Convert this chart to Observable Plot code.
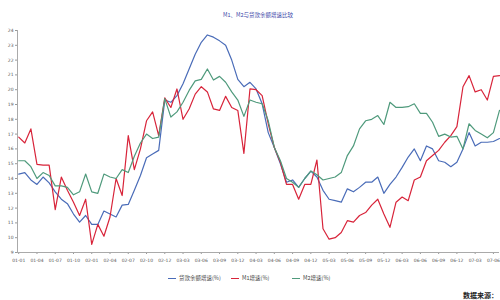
<!DOCTYPE html>
<html><head><meta charset="utf-8">
<script src="https://cdn.jsdelivr.net/npm/d3@7"></script>
<script src="https://cdn.jsdelivr.net/npm/@observablehq/plot@0.6"></script>
<style>
body{margin:0;background:#fff;font-family:"Noto Sans CJK SC","DejaVu Sans",sans-serif;width:500px;height:300px;overflow:hidden;position:relative}
#title{position:absolute;top:11px;left:0;width:500px;text-align:center;font-size:5.5px;color:#3a45a8;padding-left:16px;box-sizing:border-box}
#chart{position:absolute;top:20px;left:0}
#legend{position:absolute;top:274px;left:0;width:500px;font-size:5.5px;color:#444;white-space:nowrap}
.it{position:absolute;display:flex;align-items:center}
.sw{display:inline-block;width:8px;height:0;border-top:1px solid;margin-right:3px}
#src{position:absolute;top:290px;left:463px;font-size:7px;color:#222;font-weight:bold}
</style></head><body>
<div id="title">M1、M2与贷款余额增速比较</div>
<div id="chart"></div>
<div id="legend"></div>
<div id="src">数据来源：</div>
<script>
const tickLabels = ["01-01","01-04","01-07","01-10","02-01","02-04","02-07","02-10","02-12","03-03","03-06","03-09","03-12","04-03","04-06","04-09","04-12","05-03","05-06","05-09","05-12","06-03","06-06","06-09","06-12","07-03","07-06"];
const seriesNames = ["贷款余额增速(%)","M1增速(%)","M2增速(%)"];
const seriesColors = ["#4a6cb8","#d8243a","#4f9a7c"];
const loan = [14.3,14.4,13.9,13.6,14.1,13.7,13.1,12.6,12.3,11.6,11.05,11.5,10.9,10.9,11.8,11.6,11.4,12.2,12.25,13.2,14.2,15.4,15.65,15.9,19.3,19.15,19.6,20.4,21.4,22.4,23.2,23.7,23.55,23.3,23.0,22.0,20.7,20.2,20.5,20.05,19.05,17.1,16.1,15.0,13.75,13.9,13.4,14.0,14.5,14.1,13.2,12.6,12.5,12.4,13.3,13.1,13.4,13.75,13.75,14.1,13.0,13.6,14.1,14.75,15.45,16.0,15.2,16.2,16.0,15.2,15.1,14.8,15.1,16.0,17.1,16.2,16.45,16.45,16.5,16.7];
const m1 = [16.8,16.4,17.35,14.95,14.9,14.9,11.9,14.1,13.2,12.4,11.5,12.6,9.55,10.9,10.1,11.4,14.0,12.85,16.9,14.6,16.0,17.9,18.5,16.9,19.45,18.8,20.05,18.0,18.7,19.7,20.2,19.85,18.7,18.6,19.55,18.8,18.6,15.7,20.05,20.0,19.6,17.7,16.1,15.1,13.6,13.6,12.6,13.6,13.6,15.25,10.6,9.9,10.0,10.35,11.15,11.05,11.5,11.7,12.2,12.6,11.6,10.7,12.4,12.75,12.5,13.9,14.1,15.2,15.55,15.9,16.45,16.9,17.5,20.2,20.95,19.85,20.0,19.3,20.9,20.95];
const m2 = [15.2,15.2,14.8,14.0,14.4,14.2,13.5,13.5,13.4,12.9,13.1,14.3,13.1,13.0,14.3,14.1,14.0,14.6,14.4,15.5,16.4,17.0,16.7,16.8,19.4,18.15,18.5,19.15,19.95,20.6,20.7,21.4,20.65,20.9,20.5,19.85,19.3,18.2,19.3,19.15,19.05,17.9,16.1,15.2,14.0,13.75,13.4,14.0,14.5,14.25,13.9,14.0,14.1,14.4,15.55,16.2,17.35,17.9,18.0,18.25,17.65,19.15,18.8,18.8,18.85,19.05,18.4,18.4,17.8,16.85,17.0,16.8,16.85,16.0,17.7,17.25,17.0,16.75,17.1,18.6];
const yTicks = d3.range(9, 25);

const allSeries = [loan, m1, m2];
const rows = [];
allSeries.forEach((arr, s) => arr.forEach((v, i) => rows.push({i, v, s: seriesNames[s]})));
const tickIdx = tickLabels.map((_, k) => k * 3);

const chart = Plot.plot({
  width: 500, height: 250,
  marginLeft: 17, marginRight: 1, marginTop: 10, marginBottom: 18,
  style: {fontFamily: "DejaVu Sans, sans-serif", color: "#555", background: "transparent"},
  x: {domain: [-0.2, 79], label: null},
  y: {domain: [9, 24], label: null},
  color: {domain: seriesNames, range: seriesColors},
  marks: [
    Plot.axisY(yTicks, {tickSize: 2, tickPadding: 2, fontSize: 4.5, stroke: "#999", label: null, tickFormat: d => String(d)}),
    Plot.axisX(tickIdx, {tickSize: 2, tickPadding: 4, fontSize: 4.5, stroke: "#999", label: null, tickFormat: i => tickLabels[i / 3]}),
    Plot.ruleY([9], {stroke: "#aaa"}),
    Plot.ruleX([-0.2], {stroke: "#aaa"}),
    Plot.lineY(rows, {x: "i", y: "v", z: "s", stroke: "s", strokeWidth: 1.2})
  ]
});
document.getElementById("chart").appendChild(chart);

const legendPos = [168, 231, 292];
const lg = document.getElementById("legend");
seriesNames.forEach((n, k) => {
  const d = document.createElement("div");
  d.className = "it";
  d.style.left = legendPos[k] + "px";
  d.innerHTML = `<span class="sw" style="border-color:${seriesColors[k]}"></span><span>${n}</span>`;
  lg.appendChild(d);
});
</script>
</body></html>
